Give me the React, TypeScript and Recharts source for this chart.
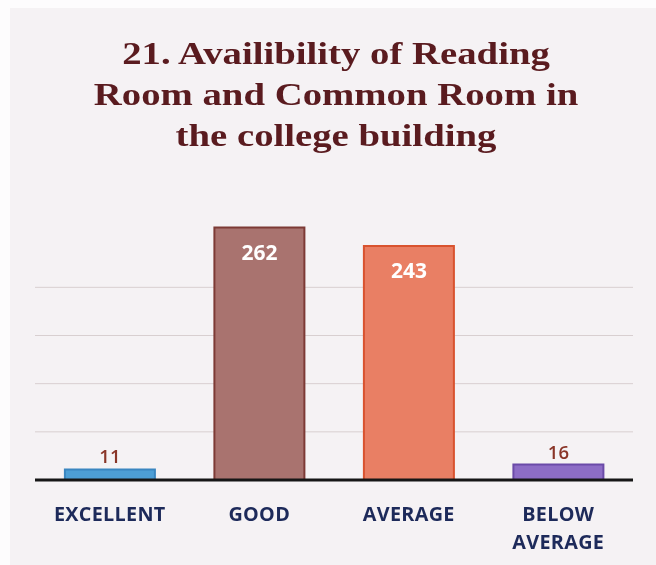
import React from "react";
import { BarChart, Bar, XAxis, YAxis, CartesianGrid, Cell, LabelList } from "recharts";

const categories = ["EXCELLENT", "GOOD", "AVERAGE", "BELOW AVERAGE"];
const counts = [11, 262, 243, 16];
const fills = ["#4d9fd6", "#a9736f", "#e97f64", "#8d6dc6"];
const strokes = ["#3a86c0", "#7d3a35", "#d9532f", "#6b4ba8"];
const yTicks = [50, 100, 150, 200];
const yMax = 300;
const titleLines = ["21. Availibility of Reading", "Room and Common Room in", "the college building"];

const data = categories.map((c, i) => ({ name: c, value: counts[i] }));

const CategoryTick = (props: any) => {
  const { x, y, payload } = props;
  const label: string = payload.value;
  const lines = label.length > 10 ? label.split(" ") : [label];
  return (
    <text
      x={x}
      y={y + 33}
      textAnchor="middle"
      fontFamily="'Open Sans', sans-serif"
      fontWeight={700}
      fontSize={19.8}
      letterSpacing={0.3}
      fill="#1d2a5a"
    >
      {lines.map((ln, i) => (
        <tspan key={i} x={x} dy={i === 0 ? 0 : 27.5}>
          {ln}
        </tspan>
      ))}
    </text>
  );
};

const ValueLabel = (props: any) => {
  const { x, y, width, value } = props;
  const cx = x + width / 2;
  if (value > 50) {
    return (
      <text
        x={cx}
        y={y + 32}
        textAnchor="middle"
        fontFamily="'Open Sans', sans-serif"
        fontWeight={700}
        fontSize={21}
        fill="#ffffff"
      >
        {value}
      </text>
    );
  }
  return (
    <text
      x={cx}
      y={y - 6}
      textAnchor="middle"
      fontFamily="'Open Sans', sans-serif"
      fontWeight={600}
      fontSize={18.5}
      fill="#8a3528"
    >
      {value}
    </text>
  );
};

const gridCoords = (p: any) => {
  const ya = p && p.yAxis;
  if (ya && typeof ya.scale === "function") {
    return yTicks.map((t) => ya.scale(t));
  }
  const off = (p && p.offset) || { top: 191, height: 289 };
  return yTicks.map((t) => off.top + off.height * (1 - t / yMax));
};

export default function App() {
  return (
    <div style={{ position: "fixed", left: 0, top: 0, width: 656, height: 565, background: "#fdfcfd" }}>
      <div style={{ position: "absolute", left: 10, top: 8, width: 646, height: 557, background: "#f5f2f4" }} />
      <div
        style={{
          position: "absolute",
          left: 0,
          top: 33,
          width: 672,
          textAlign: "center",
          fontFamily: "'Liberation Serif', 'Times New Roman', serif",
          fontWeight: 700,
          fontSize: 31,
          lineHeight: "41px",
          color: "#5a1b1f",
          transform: "scaleX(1.25)",
          transformOrigin: "336px 0",
        }}
      >
        {titleLines.map((t, i) => (
          <div key={i}>{t}</div>
        ))}
      </div>
      <div style={{ position: "absolute", left: 0, top: 0 }}>
        <BarChart
          width={656}
          height={565}
          data={data}
          margin={{ top: 191, right: 23, left: 35, bottom: 5 }}
          barCategoryGap="20%"
        >
          <CartesianGrid
            vertical={false}
            stroke="#d8cfd0"
            strokeWidth={1}
            horizontalCoordinatesGenerator={gridCoords}
          />
          <YAxis hide domain={[0, yMax]} ticks={yTicks} />
          <XAxis
            dataKey="name"
            height={80}
            axisLine={{ stroke: "#161616", strokeWidth: 3 }}
            tickLine={false}
            tick={<CategoryTick />}
            interval={0}
          />
          <Bar dataKey="value" isAnimationActive={false} strokeWidth={2}>
            {data.map((d, i) => (
              <Cell key={d.name} fill={fills[i]} stroke={strokes[i]} />
            ))}
            <LabelList dataKey="value" content={<ValueLabel />} />
          </Bar>
        </BarChart>
      </div>
    </div>
  );
}
